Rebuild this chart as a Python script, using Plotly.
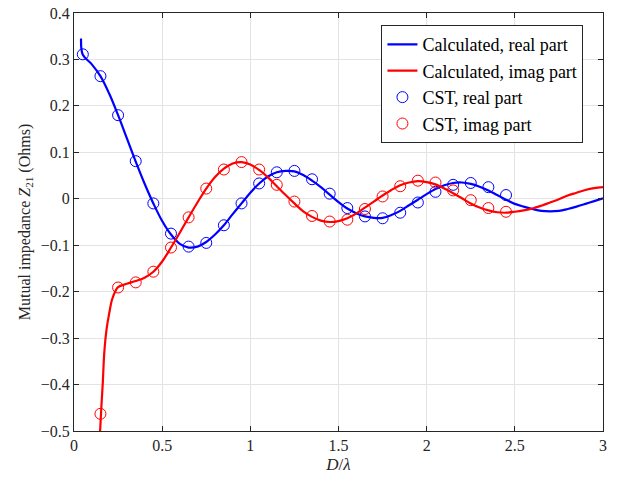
import plotly.graph_objects as go

# Calculated curves
calc_x = [0.04, 0.05, 0.1, 0.15, 0.2, 0.25, 0.3, 0.35, 0.4, 0.45, 0.5, 0.55, 0.6, 0.65, 0.7,
          0.75, 0.8, 0.85, 0.9, 0.95, 1.0, 1.05, 1.1, 1.15, 1.2, 1.25, 1.3, 1.35, 1.4, 1.45,
          1.5, 1.55, 1.6, 1.65, 1.7, 1.75, 1.8, 1.85, 1.9, 1.95, 2.0, 2.05, 2.1, 2.15, 2.2,
          2.25, 2.3, 2.35, 2.4, 2.45, 2.5, 2.55, 2.6, 2.65, 2.7, 2.75, 2.8, 2.85, 2.9, 2.95, 3.0]
calc_real = [0.345, 0.31, 0.29, 0.264, 0.226, 0.18, 0.13, 0.08, 0.033, -0.01, -0.048, -0.077,
             -0.097, -0.105, -0.103, -0.093, -0.077, -0.057, -0.033, -0.01, 0.013, 0.033,
             0.048, 0.057, 0.06, 0.059, 0.051, 0.039, 0.025, 0.009, -0.007, -0.021, -0.031,
             -0.038, -0.041, -0.041, -0.035, -0.026, -0.014, -0.002, 0.01, 0.021, 0.029,
             0.034, 0.035, 0.032, 0.026, 0.018, 0.008, -0.002, -0.011, -0.017, -0.022,
             -0.026, -0.027, -0.026, -0.022, -0.017, -0.011, -0.005, 0.001]

calc_imag_x = [0.148, 0.155, 0.163, 0.172, 0.185, 0.2, 0.215, 0.233, 0.25, 0.3, 0.35, 0.4,
               0.45, 0.5, 0.55, 0.6, 0.65, 0.7, 0.75, 0.8, 0.85, 0.9, 0.95, 1.0, 1.05, 1.1,
               1.15, 1.2, 1.25, 1.3, 1.35, 1.4, 1.45, 1.5, 1.55, 1.6, 1.65, 1.7, 1.75, 1.8,
               1.85, 1.9, 1.95, 2.0, 2.05, 2.1, 2.15, 2.2, 2.25, 2.3, 2.35, 2.4, 2.45, 2.5,
               2.55, 2.6, 2.65, 2.7, 2.75, 2.8, 2.85, 2.9, 2.95, 3.0]
calc_imag = [-0.5, -0.45, -0.398, -0.33, -0.28, -0.246, -0.218, -0.2, -0.19, -0.183, -0.177,
             -0.17, -0.157, -0.135, -0.105, -0.073, -0.04, -0.008, 0.022, 0.047, 0.065,
             0.076, 0.079, 0.074, 0.062, 0.046, 0.027, 0.008, -0.01, -0.027, -0.039, -0.047,
             -0.05, -0.048, -0.042, -0.032, -0.019, -0.006, 0.007, 0.019, 0.029, 0.035,
             0.038, 0.036, 0.031, 0.022, 0.012, 0.001, -0.01, -0.019, -0.025, -0.029, -0.03,
             -0.028, -0.025, -0.021, -0.015, -0.008, -0.001, 0.007, 0.013, 0.019, 0.023,
             0.025]

# CST samples
cst_x = [0.05, 0.15, 0.25, 0.35, 0.45, 0.55, 0.65, 0.75, 0.85, 0.95, 1.05, 1.15, 1.25,
         1.35, 1.45, 1.55, 1.65, 1.75, 1.85, 1.95, 2.05, 2.15, 2.25, 2.35, 2.45]
cst_real = [0.311, 0.264, 0.18, 0.081, -0.01, -0.075, -0.103, -0.095, -0.057, -0.01, 0.033,
            0.057, 0.06, 0.042, 0.011, -0.02, -0.038, -0.042, -0.03, -0.008, 0.015, 0.03,
            0.034, 0.025, 0.008]
cst_imag = [-0.463, -0.191, -0.18, -0.157, -0.105, -0.04, 0.022, 0.063, 0.079, 0.063, 0.03,
            -0.006, -0.037, -0.049, -0.045, -0.022, 0.005, 0.027, 0.039, 0.035, 0.018,
            -0.003, -0.02, -0.028]
cst_imag_x = cst_x[1:]

x_ticks = [0, 0.5, 1, 1.5, 2, 2.5, 3]
y_ticks = [-0.5, -0.4, -0.3, -0.2, -0.1, 0, 0.1, 0.2, 0.3, 0.4]

font_family = "Liberation Serif"
axis_color = "#262626"

fig = go.Figure()
fig.add_trace(go.Scatter(x=calc_x, y=calc_real, mode="lines", name="Calculated, real part",
                         line=dict(color="#0000ff", width=2.2, shape="spline")))
fig.add_trace(go.Scatter(x=calc_imag_x, y=calc_imag, mode="lines", name="Calculated, imag part",
                         line=dict(color="#ff0000", width=2.2, shape="spline")))
fig.add_trace(go.Scatter(x=cst_x, y=cst_real, mode="markers", name="CST, real part",
                         marker=dict(symbol="circle-open", size=11, color="#0000ff",
                                     line=dict(width=1))))
fig.add_trace(go.Scatter(x=cst_imag_x, y=cst_imag, mode="markers", name="CST, imag part",
                         marker=dict(symbol="circle-open", size=11, color="#ff0000",
                                     line=dict(width=1))))

axis_common = dict(showline=True, linecolor=axis_color, linewidth=1, mirror="ticks",
                   ticks="inside", ticklen=5, tickcolor=axis_color, showgrid=True,
                   gridcolor="#e3e3e3", gridwidth=1, zeroline=False, automargin=False,
                   tickfont=dict(family=font_family, size=16, color=axis_color))

fig.update_xaxes(range=[0, 3], tickvals=x_ticks, ticktext=[str(v) for v in x_ticks],
                 title=dict(text="<i>D</i>/<i>λ</i>", font=dict(family=font_family, size=17,
                                                                  color=axis_color), standoff=4),
                 **axis_common)
fig.update_yaxes(range=[-0.5, 0.4], tickvals=y_ticks,
                 ticktext=[("\u2212" + f"{abs(v):g}") if v < 0 else f"{v:g}" for v in y_ticks],
                 title=dict(text="Mutual impedance <i>Z</i><sub>21</sub> (Ohms)",
                            font=dict(family=font_family, size=16, color=axis_color), standoff=6),
                 **axis_common)

fig.update_layout(
    width=623, height=481,
    margin=dict(l=74, r=20, t=13, b=50),
    paper_bgcolor="white", plot_bgcolor="white",
    font=dict(family=font_family, color="black"),
    legend=dict(x=0.963, y=0.971, xanchor="right", yanchor="top",
                bgcolor="white", bordercolor="#262626", borderwidth=1,
                font=dict(family=font_family, size=18, color="black"),
                tracegroupgap=0, itemwidth=30),
    showlegend=True,
)

fig.write_html("out.html")
